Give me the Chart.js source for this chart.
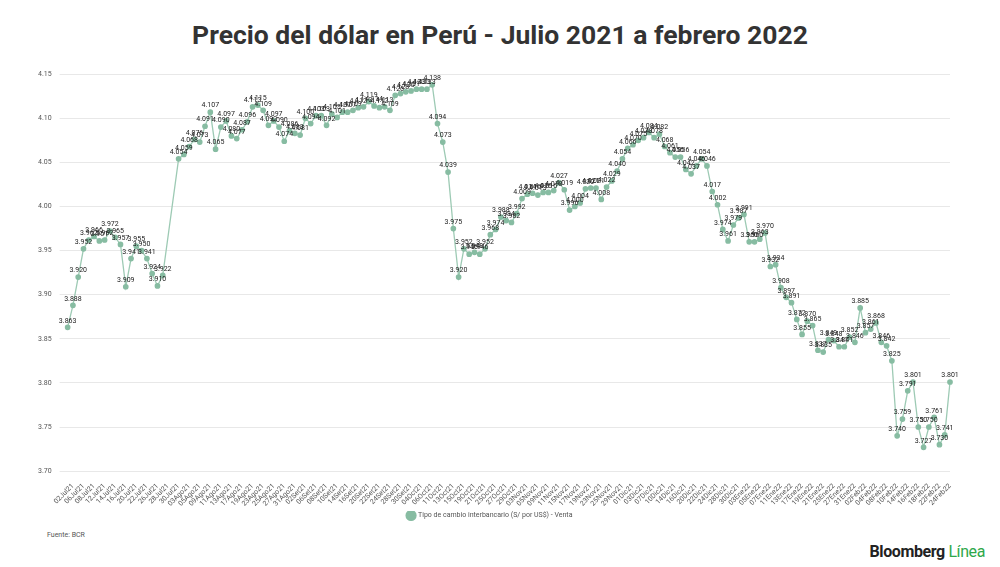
<!DOCTYPE html>
<html>
<head>
<meta charset="utf-8">
<script src="https://cdn.jsdelivr.net/npm/chart.js@4.4.1/dist/chart.umd.min.js"></script>
<style>
  body { margin: 0; width: 1000px; height: 567px; background: #fff; font-family: Roboto, sans-serif; overflow: hidden; position: relative; }
  #title { position: absolute; top: 19px; left: 0; width: 1000px; text-align: center; font-size: 26.5px; font-weight: bold; color: #333; }
  #box { position: absolute; left: 30px; top: 62px; width: 940px; height: 467px; }
  #src { position: absolute; left: 47px; top: 531px; font-size: 7px; color: #555; }
  #brand { position: absolute; right: 15px; top: 542px; font-size: 16px; font-weight: bold; color: #222; letter-spacing: -0.4px; }
  #brand span { color: #2ea84a; font-weight: normal; }
</style>
</head>
<body>
<div id="title">Precio del dólar en Perú - Julio 2021 a febrero 2022</div>
<div id="box"><canvas id="c"></canvas></div>
<div id="src">Fuente: BCR</div>
<div id="brand">Bloomberg <span>Línea</span></div>
<script>
// fechas (días hábiles, 1 jul 2021 - 24 feb 2022)
const dates = [
  '01Jul21','02Jul21','05Jul21','06Jul21','07Jul21','08Jul21','09Jul21','12Jul21','13Jul21','14Jul21',
  '15Jul21','16Jul21','19Jul21','20Jul21','21Jul21','22Jul21','23Jul21','26Jul21','27Jul21','28Jul21',
  '29Jul21','30Jul21','02Ago21','03Ago21','04Ago21','05Ago21','06Ago21','09Ago21','10Ago21','11Ago21',
  '12Ago21','13Ago21','16Ago21','17Ago21','18Ago21','19Ago21','20Ago21','23Ago21','24Ago21','25Ago21',
  '26Ago21','27Ago21','30Ago21','31Ago21','01Set21','02Set21','03Set21','06Set21','07Set21','08Set21',
  '09Set21','10Set21','13Set21','14Set21','15Set21','16Set21','17Set21','20Set21','21Set21','22Set21',
  '23Set21','24Set21','27Set21','28Set21','29Set21','30Set21','01Oct21','04Oct21','05Oct21','06Oct21',
  '07Oct21','11Oct21','12Oct21','13Oct21','14Oct21','15Oct21','18Oct21','19Oct21','20Oct21','21Oct21',
  '22Oct21','25Oct21','26Oct21','27Oct21','28Oct21','29Oct21','02Nov21','03Nov21','04Nov21','05Nov21',
  '08Nov21','09Nov21','10Nov21','11Nov21','12Nov21','15Nov21','16Nov21','17Nov21','18Nov21','19Nov21',
  '22Nov21','23Nov21','24Nov21','25Nov21','26Nov21','29Nov21','30Nov21','01Dic21','02Dic21','03Dic21',
  '06Dic21','07Dic21','09Dic21','10Dic21','13Dic21','14Dic21','15Dic21','16Dic21','17Dic21','20Dic21',
  '21Dic21','22Dic21','23Dic21','24Dic21','27Dic21','28Dic21','29Dic21','30Dic21','31Dic21','03Ene22',
  '04Ene22','05Ene22','06Ene22','07Ene22','10Ene22','11Ene22','12Ene22','13Ene22','14Ene22','17Ene22',
  '18Ene22','19Ene22','20Ene22','21Ene22','24Ene22','25Ene22','26Ene22','27Ene22','28Ene22','31Ene22',
  '01Feb22','02Feb22','03Feb22','04Feb22','07Feb22','08Feb22','09Feb22','10Feb22','11Feb22','14Feb22',
  '15Feb22','16Feb22','17Feb22','18Feb22','21Feb22','22Feb22','23Feb22','24Feb22'
];

// tipo de cambio venta (S/ por US$)
const venta = [
  3.863,3.888,3.920,3.952,3.962,3.966,3.961,3.962,3.972,3.965,
  3.957,3.909,3.941,3.955,3.950,3.941,3.924,3.910,3.922,null,
  null,4.054,4.059,4.068,4.076,4.073,4.091,4.107,4.065,4.090,
  4.097,4.080,4.077,4.087,4.096,4.113,4.115,4.109,4.092,4.097,
  4.090,4.074,4.086,4.083,4.081,4.100,4.094,4.103,4.103,4.092,
  4.105,4.101,4.107,4.107,4.109,4.112,4.113,4.119,4.114,4.112,
  4.113,4.109,4.126,4.128,4.130,4.131,4.133,4.133,4.133,4.138,
  4.094,4.073,4.039,3.975,3.920,3.952,3.946,3.948,3.946,3.952,
  3.968,3.974,3.988,3.984,3.982,3.992,4.009,4.014,4.015,4.013,
  4.016,4.016,4.018,4.027,4.019,3.996,4.000,4.004,4.020,4.021,
  4.021,4.008,4.022,4.029,4.040,4.054,4.066,4.070,4.075,4.078,
  4.084,4.078,4.082,4.068,4.061,4.056,4.056,4.042,4.037,4.046,
  4.054,4.046,4.017,4.002,3.974,3.961,3.979,3.987,3.991,3.960,
  3.960,3.963,3.970,3.932,3.934,3.908,3.897,3.891,3.872,3.855,
  3.870,3.865,3.837,3.835,3.849,3.848,3.841,3.841,3.852,3.846,
  3.885,3.857,3.861,3.868,3.846,3.842,3.825,3.740,3.759,3.791,
  3.801,3.750,3.727,3.750,3.761,3.730,3.741,3.801
];

const yTicks = [3.70, 3.75, 3.80, 3.85, 3.90, 3.95, 4.00, 4.05, 4.10, 4.15];
const seriesName = 'Tipo de cambio interbancario (S/ por US$) - Venta';

// etiquetas de valor sobre cada punto
const valueLabels = {
  id: 'valueLabels',
  afterDatasetsDraw(chart) {
    const ctx = chart.ctx;
    const meta = chart.getDatasetMeta(0);
    ctx.save();
    ctx.font = '7px Roboto';
    ctx.fillStyle = '#222';
    ctx.textAlign = 'center';
    ctx.textBaseline = 'bottom';
    meta.data.forEach((pt, i) => {
      const v = venta[i];
      if (v == null) return;
      ctx.fillText(v.toFixed(3), pt.x, pt.y - 3);
    });
    ctx.restore();
  }
};

new Chart(document.getElementById('c'), {
  type: 'line',
  data: {
    labels: dates,
    datasets: [{
      label: seriesName,
      data: venta,
      borderColor: '#9dcab4',
      backgroundColor: '#87bca2',
      pointBackgroundColor: '#87bca2',
      pointBorderColor: '#87bca2',
      pointRadius: 2.2,
      borderWidth: 1.3,
      tension: 0,
      spanGaps: true
    }]
  },
  options: {
    responsive: true,
    maintainAspectRatio: false,
    animation: false,
    layout: { padding: { top: 8, right: 20 } },
    plugins: {
      legend: {
        position: 'bottom',
        labels: { usePointStyle: true, pointStyle: 'circle', boxWidth: 7, boxHeight: 7, color: '#555', font: { size: 7, family: 'Roboto' }, padding: 1 }
      },
      tooltip: { enabled: false }
    },
    scales: {
      x: {
        grid: { display: false },
        border: { display: false },
        ticks: {
          autoSkip: false, minRotation: 45, maxRotation: 45,
          color: '#555', font: { size: 7, family: 'Roboto' },
          callback: function (val, i) { return i % 2 === 1 ? dates[i] : null; }
        }
      },
      y: {
        min: 3.70, max: 4.15,
        afterBuildTicks: (s) => { s.ticks = yTicks.map(v => ({ value: v })); },
        grid: { color: '#e8e8e8' },
        border: { display: false },
        ticks: { color: '#555', font: { size: 7, family: 'Roboto' }, padding: 8, callback: (v) => Number(v).toFixed(2) }
      }
    }
  },
  plugins: [valueLabels]
});
</script>
</body>
</html>
